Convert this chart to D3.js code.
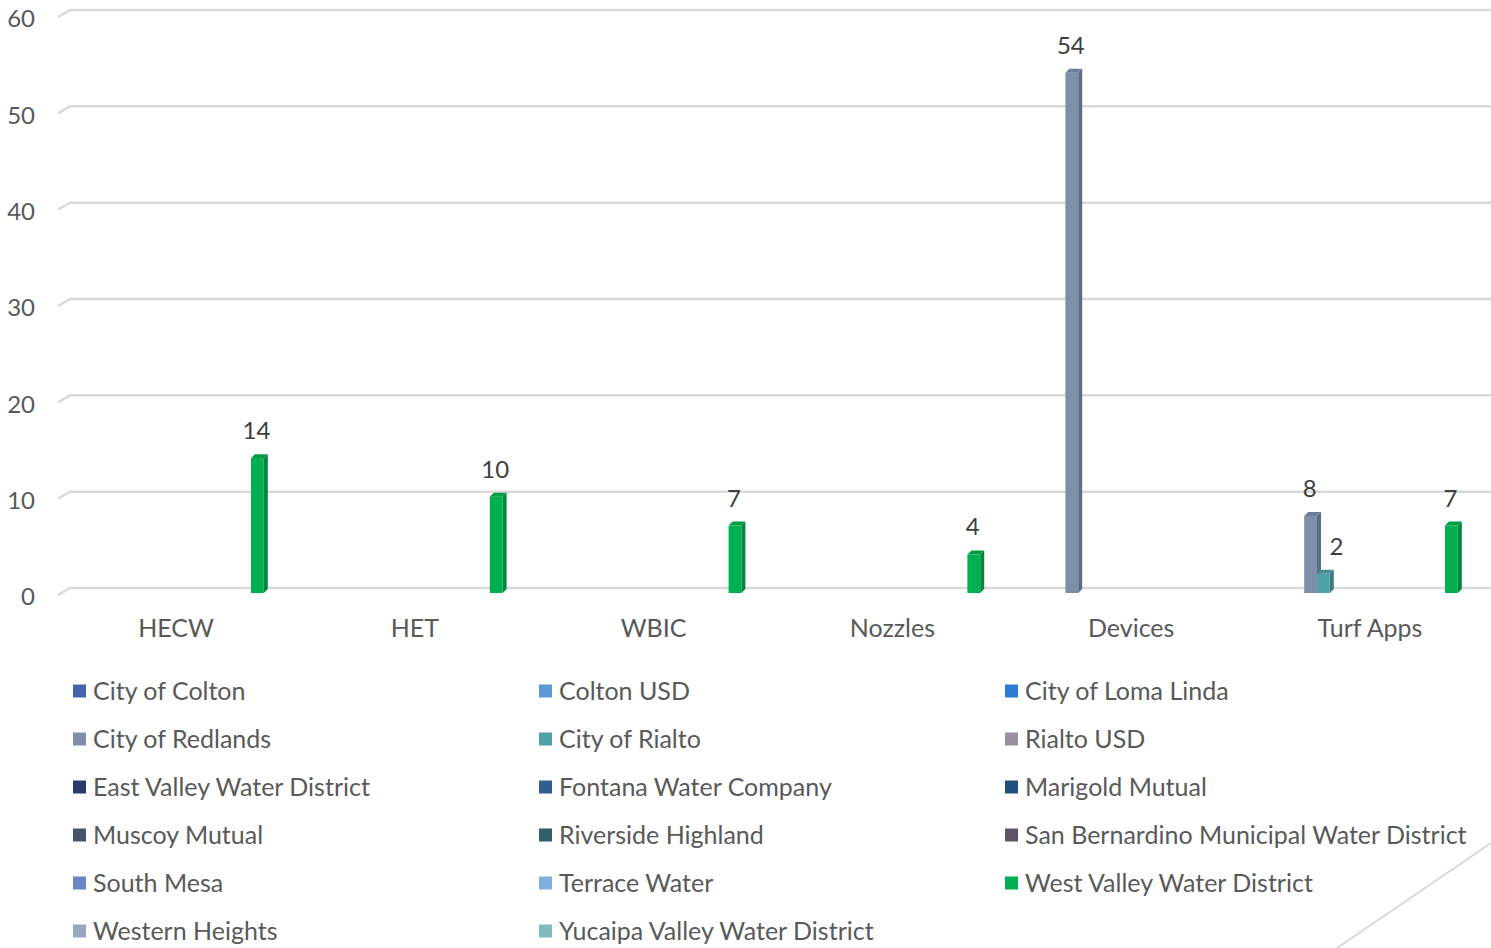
<!DOCTYPE html>
<html>
<head>
<meta charset="utf-8">
<script src="https://cdn.jsdelivr.net/npm/d3@7"></script>
<style>
  html, body { margin: 0; padding: 0; background: #ffffff; }
  svg { display: block; }
  text { font-family: Lato, "Open Sans", sans-serif; }
</style>
</head>
<body>
<svg id="chart" width="1491" height="948"></svg>
<script>
const categories = ["HECW", "HET", "WBIC", "Nozzles", "Devices", "Turf Apps"];
const yTicks = [0, 10, 20, 30, 40, 50, 60];

const seriesNames = [
  "City of Colton", "Colton USD", "City of Loma Linda",
  "City of Redlands", "City of Rialto", "Rialto USD",
  "East Valley Water District", "Fontana Water Company", "Marigold Mutual",
  "Muscoy Mutual", "Riverside Highland", "San Bernardino Municipal Water District",
  "South Mesa", "Terrace Water", "West Valley Water District",
  "Western Heights", "Yucaipa Valley Water District"
];

const seriesColors = [
  "#4664ab", "#5b9bd5", "#2e7bd6",
  "#7f8fa9", "#4fa3a8", "#9b8fa0",
  "#2a3a6a", "#2e5f8f", "#1f4e80",
  "#44546a", "#2f6068", "#5e5466",
  "#6b86c5", "#7fafde", "#00b050",
  "#9aa7c0", "#7ebbbd"
];

// values per series, in category order (null = no value)
const cityOfColton        = [null, null, null, null, null, null];
const coltonUSD           = [null, null, null, null, null, null];
const cityOfLomaLinda     = [null, null, null, null, null, null];
const cityOfRedlands      = [null, null, null, null, 54, 8];
const cityOfRialto        = [null, null, null, null, null, 2];
const rialtoUSD           = [null, null, null, null, null, null];
const eastValley          = [null, null, null, null, null, null];
const fontana             = [null, null, null, null, null, null];
const marigold            = [null, null, null, null, null, null];
const muscoy              = [null, null, null, null, null, null];
const riversideHighland   = [null, null, null, null, null, null];
const sanBernardino       = [null, null, null, null, null, null];
const southMesa           = [null, null, null, null, null, null];
const terraceWater        = [null, null, null, null, null, null];
const westValley          = [14, 10, 7, 4, null, 7];
const westernHeights      = [null, null, null, null, null, null];
const yucaipaValley       = [null, null, null, null, null, null];

const seriesValues = [
  cityOfColton, coltonUSD, cityOfLomaLinda,
  cityOfRedlands, cityOfRialto, rialtoUSD,
  eastValley, fontana, marigold,
  muscoy, riversideHighland, sanBernardino,
  southMesa, terraceWater, westValley,
  westernHeights, yucaipaValley
];

const svg = d3.select("#chart");
const W = 1491, H = 948;

const x0 = d3.scaleBand().domain(categories).range([58.6, 58.6 + 6 * 238.8]).padding(0);
const x1 = d3.scaleBand().domain(d3.range(seriesNames.length)).range([13.2, 13.2 + 17 * 12.8]).padding(0);
const y = d3.scaleLinear().domain([0, 60]).range([593, 15]);

const depthX = 4, depthY = 4;
const gridColor = "#d9d9d9";
const textColor = "#595959";

// gridlines (back wall) with perspective stub
const grid = svg.append("g");
yTicks.forEach(t => {
  const yf = y(t);
  grid.append("path")
    .attr("d", `M58,${yf + 2}L70,${yf - 5}L${W},${yf - 5}`)
    .attr("fill", "none")
    .attr("stroke", gridColor)
    .attr("stroke-width", 2.5);
});

// floor edge at bottom right
svg.append("line")
  .attr("x1", 1337).attr("y1", H)
  .attr("x2", W).attr("y2", 843)
  .attr("stroke", gridColor).attr("stroke-width", 2);

// y axis labels
const yAxis = d3.axisLeft(y).tickValues(yTicks).tickSize(0).tickPadding(0);
const gy = svg.append("g").attr("transform", "translate(35,4)").call(yAxis);
gy.select(".domain").remove();
gy.selectAll("text")
  .attr("fill", textColor)
  .style("font-size", "24px")
  .style("font-family", "Lato, sans-serif");

// x axis labels
const xAxis = d3.axisBottom(x0).tickSize(0).tickPadding(0);
const gx = svg.append("g").attr("transform", "translate(-2,619)").call(xAxis);
gx.select(".domain").remove();
gx.selectAll("text")
  .attr("fill", textColor)
  .style("font-size", "25px")
  .style("font-family", "Lato, sans-serif");

function shade(c, k) {
  const h = d3.hsl(c);
  return h.darker(k).formatHex();
}

// bars
const bars = [];
seriesValues.forEach((vals, s) => {
  vals.forEach((v, c) => {
    if (v === null || v === undefined) return;
    bars.push({ s, c, v });
  });
});

const gb = svg.append("g");
const bw = x1.bandwidth();
bars.forEach(b => {
  const xl = x0(categories[b.c]) + x1(b.s);
  const yt = y(b.v), yb = y(0);
  const col = seriesColors[b.s];
  const g = gb.append("g");
  // side
  g.append("path")
    .attr("d", `M${xl + bw},${yt}L${xl + bw + depthX},${yt - depthY}L${xl + bw + depthX},${yb - depthY}L${xl + bw},${yb}Z`)
    .attr("fill", shade(col, 0.75));
  // top
  g.append("path")
    .attr("d", `M${xl},${yt}L${xl + depthX},${yt - depthY}L${xl + bw + depthX},${yt - depthY}L${xl + bw},${yt}Z`)
    .attr("fill", shade(col, 0.35));
  // front
  g.append("rect")
    .attr("x", xl).attr("y", yt)
    .attr("width", bw).attr("height", yb - yt)
    .attr("fill", col);
});

// value labels
bars.forEach(b => {
  const xl = x0(categories[b.c]) + x1(b.s);
  // shift right if the neighbouring bar on the left is taller (avoid overlap)
  const left = bars.find(o => o.c === b.c && o.s === b.s - 1);
  const shift = left && left.v > b.v ? 14 : 0;
  svg.append("text")
    .attr("x", xl + bw / 2 + shift - 1)
    .attr("y", y(b.v) - 19)
    .attr("text-anchor", "middle")
    .attr("fill", "#404040")
    .style("font-size", "24px")
    .text(b.v);
});

// legend
const cols = [73, 539, 1005];
const leg = svg.append("g");
seriesNames.forEach((name, i) => {
  const cx = cols[i % 3];
  const cy = 691 + 48 * Math.floor(i / 3);
  leg.append("rect")
    .attr("x", cx).attr("y", cy - 6.5)
    .attr("width", 13).attr("height", 13)
    .attr("fill", seriesColors[i]);
  leg.append("text")
    .attr("x", cx + 20).attr("y", cy)
    .attr("dy", "0.35em")
    .attr("fill", textColor)
    .style("font-size", "25px")
    .text(name);
});
</script>
</body>
</html>
